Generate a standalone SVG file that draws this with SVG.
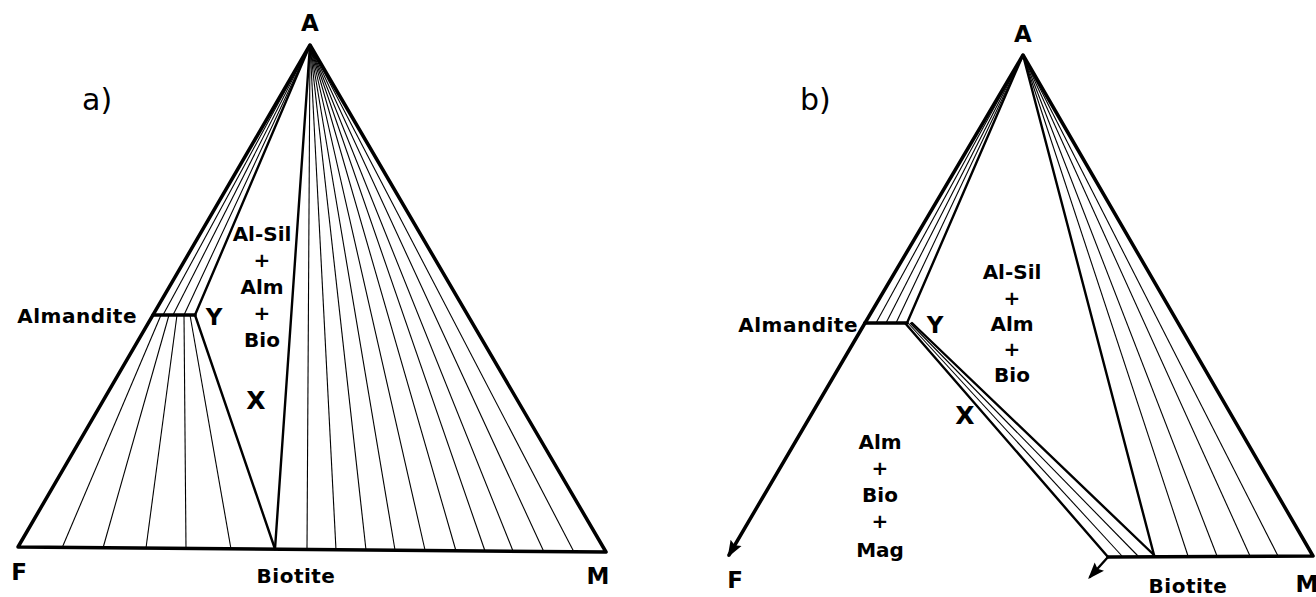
<svg xmlns="http://www.w3.org/2000/svg" width="1316" height="597" viewBox="0 0 1316 597">
<defs>
<style>
.edge{stroke:#000;stroke-width:3.5;fill:none;stroke-linecap:round;stroke-linejoin:round}
.bd{stroke:#000;stroke-width:2.4;fill:none;stroke-linecap:round}
.tie{stroke:#000;stroke-width:1.1;fill:none}
.lbl{font-family:"DejaVu Sans",sans-serif;font-weight:bold;font-size:20px;fill:#000}
.ltr{font-family:"DejaVu Sans",sans-serif;font-weight:bold;font-size:23px;fill:#000}
.xm{font-family:"DejaVu Sans",sans-serif;font-weight:bold;font-size:25px;fill:#000}
.big{font-family:"DejaVu Sans",sans-serif;font-size:30px;fill:#000}
.c{text-anchor:middle}
</style>
<marker id="arr" viewBox="0 0 12 10" refX="10" refY="5" markerWidth="17" markerHeight="14" orient="auto" markerUnits="userSpaceOnUse">
<path d="M0,0.5 L12,5 L0,9.5 L2,5 Z" fill="#000"/>
</marker>
</defs>
<rect width="1316" height="597" fill="#fff"/>

<g id="panel-a">
<g id="a-connectors">
<line class="tie" x1="310" y1="45" x2="163" y2="315"/>
<line class="tie" x1="310" y1="45" x2="173" y2="315"/>
<line class="tie" x1="310" y1="45" x2="184" y2="315"/>
<line class="bd" x1="310" y1="45" x2="195" y2="315"/>
<line class="tie" x1="161" y1="315" x2="62" y2="548"/>
<line class="tie" x1="169" y1="315" x2="103" y2="548"/>
<line class="tie" x1="177" y1="315" x2="146" y2="548"/>
<line class="tie" x1="184" y1="315" x2="186" y2="549"/>
<line class="tie" x1="190" y1="315" x2="231" y2="549"/>
<line class="bd" x1="195" y1="315" x2="275" y2="549"/>
<line class="bd" x1="310" y1="45" x2="275" y2="549"/>
<line class="tie" x1="310" y1="45" x2="307" y2="549"/>
<line class="tie" x1="310" y1="45" x2="336" y2="550"/>
<line class="tie" x1="310" y1="45" x2="366" y2="550"/>
<line class="tie" x1="310" y1="45" x2="395" y2="550"/>
<line class="tie" x1="310" y1="45" x2="425" y2="550"/>
<line class="tie" x1="310" y1="45" x2="456" y2="551"/>
<line class="tie" x1="310" y1="45" x2="485" y2="551"/>
<line class="tie" x1="310" y1="45" x2="513" y2="551"/>
<line class="tie" x1="310" y1="45" x2="544" y2="552"/>
<line class="tie" x1="310" y1="45" x2="574" y2="552"/>
<line class="edge" x1="153" y1="315" x2="195" y2="315"/>
<path class="edge" d="M18,547 L310,45 L606,552 Z"/>
</g>
<g id="a-labels">
<text class="big" x="82" y="110">a)</text>
<text class="ltr c" x="310" y="31">A</text>
<text class="lbl" x="137" y="323" text-anchor="end" letter-spacing="0.5">Almandite</text>
<text class="ltr c" x="214" y="325">Y</text>
<text class="lbl c" x="262" y="241">Al-Sil</text>
<text class="lbl c" x="262" y="267">+</text>
<text class="lbl c" x="262" y="294">Alm</text>
<text class="lbl c" x="262" y="320">+</text>
<text class="lbl c" x="262" y="347">Bio</text>
<text class="xm c" x="256" y="409">X</text>
<text class="ltr c" x="19" y="580">F</text>
<text class="lbl c" x="296" y="583" letter-spacing="0.5">Biotite</text>
<text class="ltr c" x="598" y="584">M</text>
</g>
</g>

<g id="panel-b">
<g id="b-connectors">
<line class="tie" x1="1023" y1="55" x2="876" y2="323"/>
<line class="tie" x1="1023" y1="55" x2="886" y2="323"/>
<line class="tie" x1="1023" y1="55" x2="896" y2="323"/>
<line class="bd" x1="1023" y1="55" x2="907" y2="323"/>
<line class="bd" x1="905" y1="323" x2="1108" y2="557"/>
<line class="tie" x1="908" y1="323" x2="1122" y2="556"/>
<line class="tie" x1="910" y1="323" x2="1138" y2="556"/>
<line class="bd" x1="912" y1="323" x2="1154" y2="555"/>
<line class="bd" x1="1023" y1="55" x2="1154" y2="555"/>
<line class="tie" x1="1023" y1="55" x2="1188" y2="556"/>
<line class="tie" x1="1023" y1="55" x2="1217" y2="556"/>
<line class="tie" x1="1023" y1="55" x2="1250" y2="556"/>
<line class="tie" x1="1023" y1="55" x2="1278" y2="556"/>
<line class="edge" x1="865" y1="323" x2="907" y2="323"/>
<path class="edge" d="M865,323 L1023,55 L1313,556 L1108,557"/>
<line class="edge" x1="865" y1="323" x2="729" y2="555" marker-end="url(#arr)"/>
<line class="bd" x1="1108" y1="557" x2="1090" y2="577" marker-end="url(#arr)"/>
</g>
<g id="b-labels">
<text class="big" x="800" y="110">b)</text>
<text class="ltr c" x="1023" y="42">A</text>
<text class="lbl" x="858" y="332" text-anchor="end" letter-spacing="0.5">Almandite</text>
<text class="ltr c" x="935" y="333">Y</text>
<text class="lbl c" x="1012" y="279">Al-Sil</text>
<text class="lbl c" x="1012" y="305">+</text>
<text class="lbl c" x="1012" y="331">Alm</text>
<text class="lbl c" x="1012" y="356">+</text>
<text class="lbl c" x="1012" y="382">Bio</text>
<text class="xm c" x="965" y="424">X</text>
<text class="lbl c" x="880" y="449">Alm</text>
<text class="lbl c" x="880" y="475">+</text>
<text class="lbl c" x="880" y="502">Bio</text>
<text class="lbl c" x="880" y="528">+</text>
<text class="lbl c" x="880" y="557">Mag</text>
<text class="ltr c" x="735" y="588">F</text>
<text class="lbl c" x="1188" y="593" letter-spacing="0.5">Biotite</text>
<text class="ltr c" x="1307" y="592">M</text>
</g>
</g>
</svg>
